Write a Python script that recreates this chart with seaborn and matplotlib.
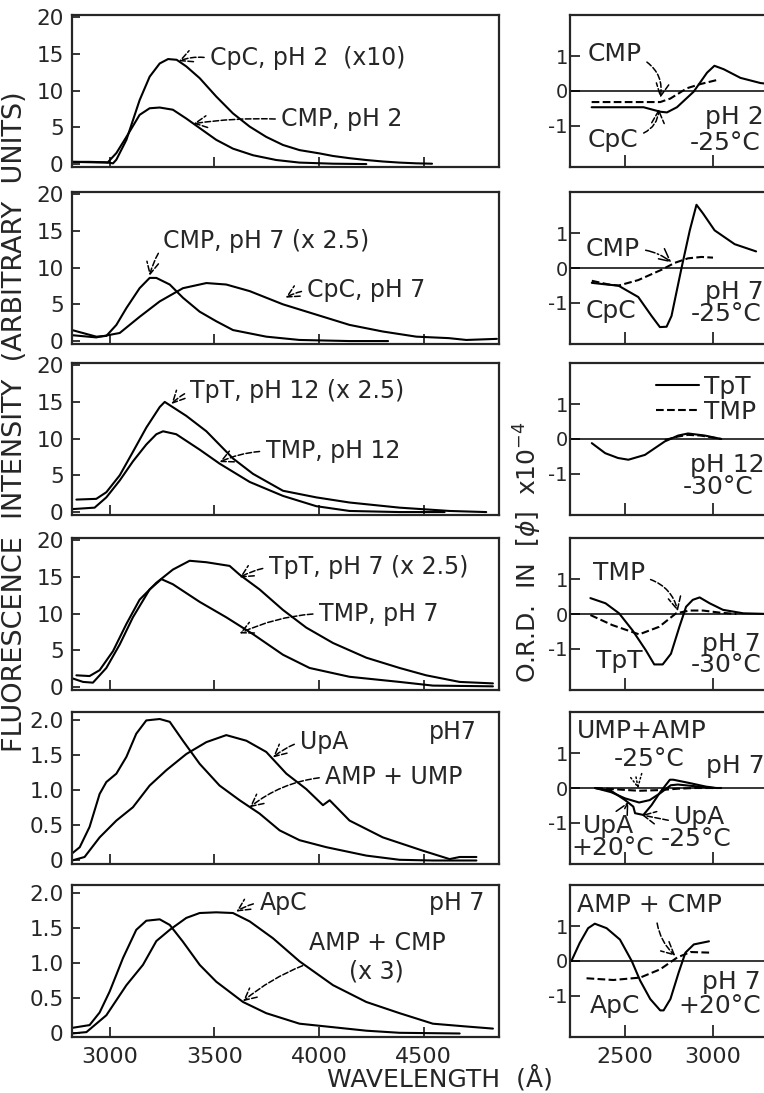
import matplotlib
matplotlib.use("Agg")
import matplotlib.pyplot as plt
import seaborn as sns

# ---------------- fluorescence spectra (left column), wavelength in Angstrom ----------------
cpc_ph2_wl = [2820, 2900, 2980, 3016, 3032, 3080, 3143, 3191, 3239, 3279, 3320, 3366, 3430, 3509,
              3589, 3669, 3748, 3828, 3907, 4003, 4067, 4146, 4226, 4305, 4385, 4465, 4540]
cpc_ph2 = [0.3, 0.3, 0.25, 0.1, 0.6, 3.3, 8.7, 11.9, 13.7, 14.3, 14.2, 13.3, 11.7, 9.2,
           6.9, 5.1, 3.7, 2.6, 1.9, 1.45, 1.1, 0.8, 0.55, 0.35, 0.2, 0.1, 0.05]
cmp_ph2_wl = [2820, 2900, 2990, 3032, 3080, 3143, 3191, 3239, 3302, 3366, 3430, 3509, 3589,
              3685, 3796, 3907, 4067, 4226]
cmp_ph2 = [0.3, 0.25, 0.2, 1.5, 3.7, 6.7, 7.6, 7.7, 7.4, 6.2, 4.9, 3.3, 2.1, 1.2, 0.55, 0.2, 0.05, 0.0]

cmp_ph7_wl = [2820, 2936, 2984, 3032, 3080, 3143, 3191, 3223, 3287, 3350, 3430, 3509, 3589,
              3748, 3907, 4146, 4330]
cmp_ph7 = [1.5, 0.6, 0.7, 2.2, 4.5, 7.2, 8.6, 8.6, 7.7, 5.9, 4.0, 2.7, 1.5, 0.6, 0.15, 0.0, 0.0]
cpc_ph7_wl = [2820, 2936, 3048, 3143, 3239, 3350, 3462, 3557, 3669, 3828, 3987, 4146, 4305,
              4465, 4620, 4704, 4850]
cpc_ph7 = [0.8, 0.5, 1.1, 3.3, 5.4, 7.2, 7.9, 7.7, 6.8, 5.0, 3.6, 2.2, 1.3, 0.6, 0.4, 0.15, 0.3]

tpt_ph12_wl = [2841, 2936, 2984, 3048, 3111, 3175, 3239, 3263, 3290, 3366, 3462, 3589, 3685,
               3828, 3987, 4146, 4385, 4624, 4799]
tpt_ph12 = [1.7, 1.8, 2.7, 5.0, 8.2, 11.5, 14.3, 15.0, 14.5, 13.1, 11.0, 7.3, 5.2,
            2.9, 2.0, 1.3, 0.6, 0.15, 0.0]
tmp_ph12_wl = [2820, 2928, 2984, 3048, 3111, 3175, 3223, 3255, 3318, 3430, 3525, 3669, 3828,
               3987, 4146, 4385, 4600]
tmp_ph12 = [0.4, 0.6, 2.0, 4.3, 6.9, 9.2, 10.6, 11.0, 10.6, 8.5, 6.6, 4.1, 2.2, 0.8, 0.15, 0.0, 0.0]

tpt_ph7_wl = [2841, 2904, 2952, 3016, 3080, 3143, 3223, 3302, 3382, 3462, 3573, 3621, 3716,
              3828, 3939, 4067, 4226, 4385, 4512, 4672, 4831]
tpt_ph7 = [1.6, 1.5, 2.3, 4.9, 8.6, 11.9, 14.2, 16.0, 17.2, 17.0, 16.5, 15.3, 13.3,
           10.5, 8.1, 6.0, 4.0, 2.6, 1.6, 0.7, 0.5]
tmp_ph7_wl = [2820, 2873, 2920, 2984, 3048, 3111, 3191, 3247, 3302, 3430, 3557, 3685, 3828,
              3955, 4146, 4385, 4544, 4831]
tmp_ph7 = [1.2, 0.7, 0.6, 2.6, 5.8, 9.5, 13.3, 14.7, 14.0, 11.6, 9.5, 7.2, 4.4, 2.6, 1.4, 0.7, 0.2, 0.1]

amp_ump_wl = [2820, 2857, 2904, 2952, 2984, 3032, 3080, 3127, 3175, 3239, 3287, 3350, 3430,
              3525, 3621, 3716, 3812, 3907, 4035, 4226, 4385, 4544, 4752]
amp_ump = [0.1, 0.19, 0.48, 0.95, 1.12, 1.24, 1.48, 1.81, 2.0, 2.02, 1.98, 1.71, 1.38,
           1.07, 0.86, 0.67, 0.43, 0.29, 0.19, 0.07, 0.01, 0.0, 0.0]
upa_wl = [2820, 2880, 2952, 3032, 3111, 3191, 3271, 3366, 3462, 3557, 3653, 3748, 3844, 3939,
          4019, 4051, 4146, 4305, 4496, 4624, 4672, 4752]
upa = [0.0, 0.05, 0.33, 0.57, 0.76, 1.07, 1.29, 1.52, 1.69, 1.79, 1.71, 1.55, 1.24, 1.02,
       0.79, 0.86, 0.57, 0.33, 0.14, 0.02, 0.05, 0.05]

amp_cmp_wl = [2820, 2904, 2952, 3000, 3064, 3127, 3175, 3239, 3287, 3350, 3430, 3509, 3637,
              3748, 3907, 4067, 4226, 4385, 4672]
amp_cmp = [0.08, 0.12, 0.3, 0.6, 1.08, 1.48, 1.61, 1.63, 1.55, 1.31, 0.98, 0.74, 0.45,
           0.29, 0.14, 0.09, 0.04, 0.01, 0.0]
apc_wl = [2820, 2889, 2984, 3080, 3159, 3223, 3287, 3366, 3430, 3509, 3589, 3669, 3780, 3907,
          4067, 4226, 4385, 4544, 4704, 4831]
apc = [0.0, 0.02, 0.26, 0.69, 0.98, 1.32, 1.48, 1.65, 1.72, 1.73, 1.72, 1.60, 1.36, 1.03,
       0.69, 0.45, 0.29, 0.14, 0.1, 0.07]

# ---------------- O.R.D. curves (right column), [phi] x 10^-4 ----------------
ord1_cmp_wl = [2310, 2500, 2700, 2757, 2852, 2928, 3032]
ord1_cmp = [-0.32, -0.32, -0.32, -0.22, 0.08, 0.2, 0.33]
ord1_cpc_wl = [2310, 2500, 2605, 2700, 2738, 2795, 2890, 2966, 3008, 3061, 3156, 3270, 3324]
ord1_cpc = [-0.47, -0.47, -0.47, -0.6, -0.62, -0.47, -0.02, 0.53, 0.73, 0.63, 0.38, 0.23, 0.2]

ord2_cmp_wl = [2311, 2400, 2462, 2575, 2708, 2783, 2858, 2934, 3000]
ord2_cmp = [-0.37, -0.47, -0.51, -0.35, -0.05, 0.15, 0.28, 0.32, 0.3]
ord2_cpc_wl = [2311, 2400, 2462, 2575, 2651, 2698, 2736, 2764, 2821, 2868, 2906, 2943, 3009, 3123, 3245]
ord2_cpc = [-0.43, -0.48, -0.51, -0.84, -1.39, -1.71, -1.7, -1.39, 0.0, 1.09, 1.83, 1.58, 1.09, 0.69, 0.48]

ord3_tpt_wl = [2311, 2387, 2460, 2519, 2613, 2726, 2802, 2858, 2953, 3047]
ord3_tpt = [-0.12, -0.41, -0.55, -0.6, -0.46, -0.07, 0.1, 0.16, 0.1, 0.0]
ord3_tmp_wl = [2726, 2800, 2858, 2930, 2990, 3047]
ord3_tmp = [-0.03, 0.07, 0.12, 0.1, 0.05, 0.0]

ord4_tpt_wl = [2303, 2389, 2466, 2542, 2618, 2666, 2714, 2761, 2809, 2847, 2885, 2924, 2981, 3057, 3172, 3324]
ord4_tpt = [0.46, 0.31, 0.02, -0.47, -1.05, -1.46, -1.46, -1.15, -0.37, 0.21, 0.41, 0.48, 0.31, 0.12, 0.02, 0.0]
ord4_tmp_wl = [2303, 2427, 2580, 2694, 2790, 2866, 2943, 3038, 3133]
ord4_tmp = [-0.03, -0.32, -0.59, -0.37, 0.02, 0.1, 0.1, 0.04, 0.0]

ord5_upa_m25_wl = [2330, 2420, 2500, 2547, 2557, 2604, 2650, 2700, 2755, 2774, 2870, 2960, 3019]
ord5_upa_m25 = [0.0, -0.08, -0.35, -0.54, -0.73, -0.78, -0.5, -0.12, 0.24, 0.24, 0.14, 0.04, 0.0]
ord5_upa_p20_wl = [2330, 2420, 2500, 2580, 2640, 2700, 2760, 2800, 2900, 3000]
ord5_upa_p20 = [0.0, -0.12, -0.3, -0.42, -0.35, -0.15, 0.08, 0.1, 0.05, 0.0]
ord5_mix_wl = [2330, 2450, 2580, 2700, 2800, 2900, 3050]
ord5_mix = [0.0, -0.04, -0.08, -0.06, -0.02, 0.0, 0.0]

ord6_apc_wl = [2195, 2242, 2290, 2328, 2395, 2471, 2538, 2586, 2643, 2700, 2719, 2758, 2805, 2843, 2891, 2977]
ord6_apc = [0.0, 0.52, 0.95, 1.08, 0.95, 0.62, 0.0, -0.57, -1.1, -1.43, -1.43, -1.1, -0.33, 0.24, 0.48, 0.57]
ord6_mix_wl = [2281, 2433, 2586, 2700, 2796, 2872, 2996]
ord6_mix = [-0.5, -0.55, -0.48, -0.24, 0.1, 0.26, 0.24]

sns.set_style("ticks")
plt.rcParams['font.family'] = ['DejaVu Sans']

W, H = 764, 1093
fig = plt.figure(figsize=(W / 100, H / 100), dpi=100)
row_tops = [15, 192, 363, 538, 712, 885]
panel_h = 152
FS = 17      # left annotations
FSR = 18     # right annotations


def px_axes(left, top, width, height):
    return fig.add_axes([left / W, 1 - (top + height) / H, width / W, height / H])


def curve(ax, x, y, dashed=False, label=None):
    sns.lineplot(x=x, y=y, ax=ax, color='black', lw=1.5, errorbar=None,
                 linestyle='--' if dashed else '-', label=label, legend=False)


def note(ax, text, xy, xytext, rad=0.0, relpos=(0, 0.5), ls='--', fs=FS):
    ax.annotate(text, xy=xy, xytext=xytext, fontsize=fs, ha='left', va='center',
                multialignment='center',
                arrowprops=dict(arrowstyle='->,head_length=0.5,head_width=0.25', color='black',
                                lw=1.1, ls=ls, relpos=relpos, shrinkA=2, shrinkB=0,
                                connectionstyle=f'arc3,rad={rad}'))


def label(ax, x, y, text, fs=FSR):
    ax.text(x, y, text, fontsize=fs, va='center')


def style_left(ax, small, bottom):
    ax.set_xlim(2820, 4860)
    ax.set_xticks([3000, 3500, 4000, 4500])
    if small:
        ax.set_ylim(-0.05, 2.12)
        ax.set_yticks([0, 0.5, 1.0, 1.5, 2.0])
        ax.set_yticklabels(['0', '0.5', '1.0', '1.5', '2.0'])
    else:
        ax.set_ylim(-0.4, 20.3)
        ax.set_yticks([0, 5, 10, 15, 20])
    ax.tick_params(axis='x', direction='in', length=7, width=1.3, labelsize=16, pad=7)
    ax.tick_params(axis='y', direction='in', length=5.5, width=1.3, labelsize=15.5, pad=6)
    if not bottom:
        ax.set_xticklabels([])
    ax.set_xlabel('')
    ax.set_ylabel('')
    for s in ax.spines.values():
        s.set_linewidth(1.6)


def style_right(ax, bottom):
    ax.set_xlim(2187, 3324)
    ax.set_ylim(-2.2, 2.2)
    ax.set_xticks([2500, 3000])
    ax.set_yticks([-1, 0, 1])
    ax.set_yticklabels(['-1', '0', '1'])
    ax.axhline(0, color='black', lw=1.1)
    ax.tick_params(axis='x', direction='in', length=8.5, width=1.3, labelsize=16, pad=7)
    ax.tick_params(axis='y', direction='in', length=7, width=1.3, labelsize=14, pad=1.5)
    if not bottom:
        ax.set_xticklabels([])
    ax.set_xlabel('')
    ax.set_ylabel('')
    for s in ax.spines.values():
        s.set_linewidth(1.6)
    ax.spines['right'].set_visible(False)


left_axes = [px_axes(72, t, 427, panel_h) for t in row_tops]
right_axes = [px_axes(570, t, 200, panel_h) for t in row_tops]

# ---- left column ----
ax = left_axes[0]
curve(ax, cpc_ph2_wl, cpc_ph2)
curve(ax, cmp_ph2_wl, cmp_ph2)
note(ax, "CpC, pH 2  (x10)", (3330, 14.0), (3480, 14.4), rad=0.15)
note(ax, "CMP, pH 2", (3400, 5.5), (3820, 6.1), rad=0.05)

ax = left_axes[1]
curve(ax, cmp_ph7_wl, cmp_ph7)
curve(ax, cpc_ph7_wl, cpc_ph7)
note(ax, "CMP, pH 7 (x 2.5)", (3191, 8.9), (3255, 13.6), rad=0.1, relpos=(0, 0.3))
note(ax, "CpC, pH 7", (3840, 5.9), (3945, 6.9), rad=0.1)

ax = left_axes[2]
curve(ax, tpt_ph12_wl, tpt_ph12)
curve(ax, tmp_ph12_wl, tmp_ph12)
note(ax, "TpT, pH 12 (x 2.5)", (3295, 14.7), (3385, 16.5), rad=0.1)
note(ax, "TMP, pH 12", (3525, 6.8), (3745, 8.3), rad=0.1)

ax = left_axes[3]
curve(ax, tpt_ph7_wl, tpt_ph7)
curve(ax, tmp_ph7_wl, tmp_ph7)
note(ax, "TpT, pH 7 (x 2.5)", (3621, 14.9), (3760, 16.3), rad=0.1)
note(ax, "TMP, pH 7", (3621, 7.3), (4000, 10.0), rad=0.1)

ax = left_axes[4]
curve(ax, amp_ump_wl, amp_ump)
curve(ax, upa_wl, upa)
note(ax, "UpA", (3780, 1.47), (3910, 1.69), rad=0.1)
note(ax, "AMP + UMP", (3669, 0.76), (4030, 1.19), rad=0.15)
label(ax, 4525, 1.83, "pH7", fs=FS)

ax = left_axes[5]
curve(ax, amp_cmp_wl, amp_cmp)
curve(ax, apc_wl, apc)
note(ax, "ApC", (3605, 1.74), (3715, 1.87), rad=0.1)
note(ax, "AMP + CMP\n(x 3)", (3637, 0.46), (3950, 1.09), rad=0.1, relpos=(0.08, 0.45))
label(ax, 4525, 1.86, "pH 7", fs=FS)

for i, ax in enumerate(left_axes):
    style_left(ax, small=i >= 4, bottom=i == 5)

# ---- right column ----
ax = right_axes[0]
curve(ax, ord1_cmp_wl, ord1_cmp, dashed=True)
curve(ax, ord1_cpc_wl, ord1_cpc)
note(ax, "CMP", (2700, -0.2), (2285, 1.08), rad=-0.35, relpos=(1, 0.3), fs=FSR)
note(ax, "CpC", (2692, -0.52), (2285, -1.42), rad=0.35, relpos=(1, 0.7), fs=FSR)
label(ax, 2955, -0.75, "pH 2")
label(ax, 2870, -1.5, "-25°C")

ax = right_axes[1]
curve(ax, ord2_cmp_wl, ord2_cmp, dashed=True)
curve(ax, ord2_cpc_wl, ord2_cpc)
note(ax, "CMP", (2764, 0.16), (2275, 0.54), rad=-0.15, relpos=(1, 0.5), ls='-.', fs=FSR)
label(ax, 2275, -1.24, "CpC")
label(ax, 2955, -0.7, "pH 7")
label(ax, 2875, -1.34, "-25°C")

ax = right_axes[2]
curve(ax, ord3_tpt_wl, ord3_tpt, label='TpT')
curve(ax, ord3_tmp_wl, ord3_tmp, dashed=True, label='TMP')
ax.legend(loc='upper left', bbox_to_anchor=(0.38, 0.99), frameon=False, fontsize=FSR,
          handlelength=1.7, handletextpad=0.2, labelspacing=0.05, borderaxespad=0)
label(ax, 2870, -0.75, "pH 12")
label(ax, 2830, -1.38, "-30°C")

ax = right_axes[3]
curve(ax, ord4_tpt_wl, ord4_tpt)
curve(ax, ord4_tmp_wl, ord4_tmp, dashed=True)
note(ax, "TMP", (2800, 0.08), (2315, 1.19), rad=-0.3, relpos=(1, 0.3), fs=FSR)
label(ax, 2335, -1.35, "TpT")
label(ax, 2935, -0.86, "pH 7")
label(ax, 2875, -1.49, "-30°C")

ax = right_axes[4]
curve(ax, ord5_upa_m25_wl, ord5_upa_m25)
curve(ax, ord5_upa_p20_wl, ord5_upa_p20)
curve(ax, ord5_mix_wl, ord5_mix, dashed=True)
label(ax, 2225, 1.66, "UMP+AMP")
note(ax, "-25°C", (2575, -0.02), (2435, 0.84), rad=0.0, relpos=(0.3, 0), ls=':', fs=FSR)
label(ax, 2960, 0.65, "pH 7")
note(ax, "UpA", (2519, -0.4), (2262, -1.11), rad=0.0, relpos=(0.75, 1), ls='-.', fs=FSR)
label(ax, 2195, -1.75, "+20°C")
note(ax, "UpA", (2594, -0.78), (2780, -0.83), rad=0.0, relpos=(0, 0.3), fs=FSR)
label(ax, 2705, -1.47, "-25°C")

ax = right_axes[5]
curve(ax, ord6_apc_wl, ord6_apc)
curve(ax, ord6_mix_wl, ord6_mix, dashed=True)
note(ax, "AMP + CMP", (2786, 0.15), (2225, 1.62), rad=0.2, relpos=(0.55, 0), fs=FSR)
label(ax, 2300, -1.29, "ApC")
label(ax, 2935, -0.62, "pH 7")
label(ax, 2805, -1.29, "+20°C")

for i, ax in enumerate(right_axes):
    style_right(ax, bottom=i == 5)

# ---- shared labels ----
fig.text(15 / W, 1 - 422 / H, "FLUORESCENCE  INTENSITY  (ARBITRARY  UNITS)", rotation=90,
         ha='center', va='center', fontsize=19.5)
fig.text(528 / W, 1 - 552 / H, r"O.R.D.  IN  $[\phi]$  x10$^{-4}$", rotation=90,
         ha='center', va='center', fontsize=18)
fig.text(440 / W, 1 - 1078 / H, "WAVELENGTH  (Å)", ha='center', va='center', fontsize=18)

fig.savefig("out.png", dpi=100)
